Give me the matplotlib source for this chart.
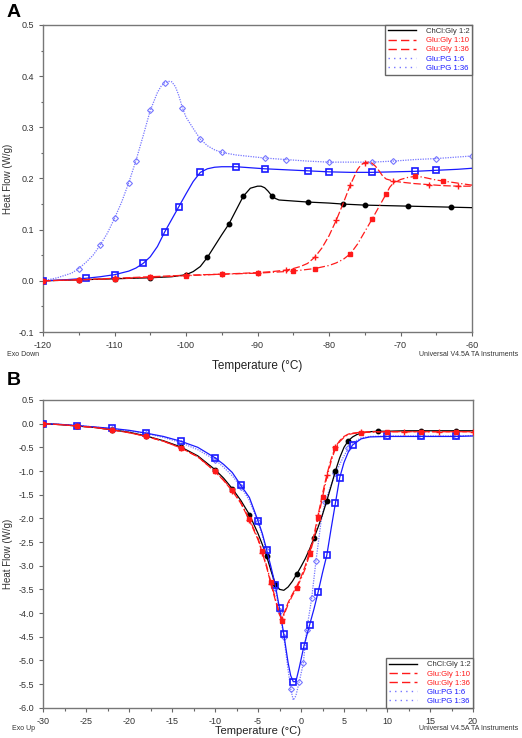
import matplotlib
matplotlib.use("Agg")
import matplotlib.pyplot as plt
from matplotlib.lines import Line2D
from matplotlib.ticker import MultipleLocator, FormatStrFormatter

plt.rcParams['font.family'] = ['Liberation Sans', 'DejaVu Sans']
plt.rcParams['axes.unicode_minus'] = False

labels = ["ChCl:Gly 1:2", "Glu:Gly 1:10", "Glu:Gly 1:36", "Glu:PG 1:6", "Glu:PG 1:36"]

# ---------------- Panel A (cooling, -120 .. -60 C) ----------------
a_chcl_t = [-120, -115, -110, -105, -102, -100, -99, -98, -97, -96, -95, -94, -93, -92, -91, -90, -89.5, -89,
            -88.5, -88, -87.5, -87, -86, -85, -83, -80, -78, -75, -72, -69, -66, -63, -60]
a_chcl_hf = [0.0, 0.002, 0.004, 0.006, 0.008, 0.012, 0.018, 0.028, 0.046, 0.068, 0.090, 0.111, 0.138, 0.165, 0.181,
             0.185, 0.185, 0.182, 0.175, 0.166, 0.161, 0.158, 0.157, 0.156, 0.154, 0.152, 0.150, 0.148, 0.147, 0.146,
             0.145, 0.144, 0.143]

a_gg10_t = [-120, -115, -110, -105, -100, -95, -90, -88, -86, -85, -84, -83, -82, -81, -80, -79, -78, -77, -76,
            -75.5, -75, -74.5, -74, -73.5, -73, -72.5, -72, -71, -70, -68, -66, -64, -62, -60]
a_gg10_hf = [0.0, 0.002, 0.005, 0.008, 0.011, 0.013, 0.016, 0.018, 0.021, 0.024, 0.028, 0.034, 0.046, 0.064, 0.088,
             0.118, 0.152, 0.188, 0.218, 0.227, 0.231, 0.232, 0.230, 0.224, 0.215, 0.205, 0.199, 0.195, 0.193, 0.190,
             0.188, 0.186, 0.185, 0.185]

a_gg36_t = [-120, -115, -110, -105, -100, -95, -90, -85, -82, -80, -79, -78, -77, -76, -75, -74, -73, -72, -71.5,
            -71, -70, -69, -68, -67, -66, -65, -64, -62, -60]
a_gg36_hf = [0.0, 0.002, 0.004, 0.007, 0.010, 0.013, 0.015, 0.019, 0.024, 0.030, 0.035, 0.042, 0.053, 0.072, 0.096,
             0.120, 0.145, 0.170, 0.183, 0.191, 0.198, 0.202, 0.204, 0.203, 0.200, 0.197, 0.195, 0.191, 0.187]

a_pg6_t = [-120, -118, -116, -115, -114, -113, -112, -111, -110, -109, -108, -107, -106, -105, -104, -103.5, -103,
           -102.5, -102, -101.5, -101, -100.5, -100, -99, -98, -97, -96, -95, -93, -91, -89, -86, -83, -80, -77,
           -74, -71, -68, -65, -62, -60]
a_pg6_hf = [0.0, 0.006, 0.015, 0.024, 0.036, 0.050, 0.070, 0.093, 0.122, 0.154, 0.192, 0.235, 0.283, 0.333, 0.368,
            0.380, 0.387, 0.390, 0.389, 0.380, 0.362, 0.338, 0.320, 0.298, 0.277, 0.264, 0.256, 0.251, 0.246, 0.243,
            0.240, 0.237, 0.234, 0.232, 0.232, 0.232, 0.234, 0.237, 0.239, 0.242, 0.244]

a_pg36_t = [-120, -117, -114, -112, -110, -108, -107, -106, -105, -104, -103, -102, -101, -100, -99, -98, -97, -96,
            -95, -93, -91, -89, -86, -83, -80, -77, -74, -71, -68, -65, -62, -60]
a_pg36_hf = [0.0, 0.002, 0.005, 0.008, 0.012, 0.019, 0.025, 0.034, 0.047, 0.067, 0.095, 0.120, 0.145, 0.170, 0.194,
             0.212, 0.219, 0.222, 0.223, 0.223, 0.221, 0.219, 0.217, 0.215, 0.213, 0.212, 0.212, 0.213, 0.214, 0.216,
             0.218, 0.220]

# ---------------- Panel B (heating, -30 .. 20 C) ----------------
b_chcl_t = [-30, -28, -26, -24, -22, -20, -18, -16, -14, -12, -10, -9, -8, -7, -6, -5, -4.5, -4, -3.5, -3, -2.5,
            -2, -1.5, -1, -0.5, 0, 0.5, 1, 1.5, 2, 2.5, 3, 3.5, 4, 4.5, 5, 5.5, 6, 6.5, 7, 8, 9, 10, 12, 14, 16,
            18, 20]
b_chcl_hf = [0, -0.02, -0.05, -0.08, -0.13, -0.18, -0.26, -0.36, -0.49, -0.68, -0.97, -1.15, -1.37, -1.62, -1.92,
             -2.32, -2.55, -2.80, -3.10, -3.38, -3.50, -3.52, -3.45, -3.33, -3.18, -3.02, -2.85, -2.65, -2.42,
             -2.18, -1.92, -1.63, -1.32, -1.00, -0.72, -0.50, -0.36, -0.28, -0.23, -0.20, -0.17, -0.16, -0.16,
             -0.15, -0.15, -0.15, -0.15, -0.15]

b_gg10_t = [-30, -28, -26, -24, -22, -20, -18, -16, -14, -12, -10, -9, -8, -7, -6, -5, -4.5, -4, -3.5, -3, -2.5,
            -2.2, -2, -1.5, -1, -0.5, 0, 0.5, 1, 1.5, 2, 2.5, 3, 3.5, 4, 4.5, 5, 5.5, 6, 7, 8, 10, 12, 14, 16, 18, 20]
b_gg10_hf = [0, -0.02, -0.05, -0.08, -0.13, -0.19, -0.27, -0.37, -0.51, -0.70, -1.01, -1.20, -1.42, -1.68, -2.04,
             -2.45, -2.73, -3.03, -3.38, -3.72, -4.04, -4.12, -4.02, -3.78, -3.60, -3.44, -3.24, -3.00, -2.70,
             -2.36, -1.92, -1.48, -1.08, -0.75, -0.49, -0.36, -0.27, -0.22, -0.20, -0.18, -0.17, -0.17, -0.17,
             -0.17, -0.17, -0.17, -0.17]

b_gg36_t = [-30, -28, -26, -24, -22, -20, -18, -16, -14, -12, -10, -9, -8, -7, -6, -5, -4.5, -4, -3.5, -3, -2.5,
            -2.25, -2, -1.5, -1, -0.5, 0, 0.5, 1, 1.5, 2, 2.5, 3, 3.5, 4, 4.5, 5, 5.5, 6, 7, 8, 10, 12, 14, 16, 18, 20]
b_gg36_hf = [0, -0.02, -0.05, -0.08, -0.13, -0.19, -0.27, -0.37, -0.51, -0.70, -1.00, -1.19, -1.40, -1.66, -2.02,
             -2.42, -2.70, -3.00, -3.35, -3.68, -4.02, -4.16, -4.05, -3.82, -3.63, -3.47, -3.28, -3.06, -2.76,
             -2.44, -2.00, -1.55, -1.14, -0.80, -0.52, -0.38, -0.29, -0.23, -0.21, -0.19, -0.18, -0.17, -0.17,
             -0.17, -0.17, -0.17, -0.17]

b_pg6_t = [-30, -28, -26, -24, -22, -20, -18, -16, -14, -12, -10, -9, -8, -7, -6, -5, -4.5, -4, -3.5, -3, -2.5,
           -2, -1.5, -1.2, -0.9, -0.6, -0.2, 0.27, 0.66, 1.24, 1.74, 2.33, 2.8, 3.37, 4, 4.85, 5.5, 6, 7, 8, 10, 12,
           14, 16, 18, 20]
b_pg6_hf = [0, -0.015, -0.04, -0.07, -0.11, -0.15, -0.21, -0.29, -0.40, -0.55, -0.76, -0.92, -1.10, -1.33, -1.62,
            -2.08, -2.36, -2.70, -3.07, -3.47, -3.95, -4.50, -5.20, -5.60, -5.84, -5.75, -5.45, -5.06, -4.36, -3.69,
            -2.90, -2.07, -1.65, -1.36, -1.05, -0.73, -0.52, -0.40, -0.30, -0.27, -0.26, -0.26, -0.26, -0.26,
            -0.26, -0.25]

b_pg36_t = [-30, -28, -26, -24, -22, -20, -18, -16, -14, -12, -10, -9, -8, -7, -6, -5, -4.5, -4, -3.5, -3, -2.5,
            -2, -1.5, -1.2, -0.9, -0.6, -0.2, 0.35, 1, 1.5, 2, 2.5, 3, 3.5, 4, 4.5, 5, 5.5, 6, 7, 8, 10, 12, 14, 16,
            18, 20]
b_pg36_hf = [0, -0.015, -0.04, -0.07, -0.10, -0.14, -0.20, -0.27, -0.37, -0.50, -0.72, -0.86, -1.03, -1.30, -1.56,
             -2.05, -2.32, -2.66, -3.02, -3.40, -3.90, -4.45, -5.05, -5.32, -5.45, -5.45, -5.15, -4.69, -4.25,
             -3.92, -3.55, -3.15, -2.78, -2.22, -1.68, -1.14, -0.82, -0.60, -0.45, -0.32, -0.28, -0.27, -0.27,
             -0.27, -0.27, -0.27, -0.26]

RED = '#ff1a1a'
BLUE = '#1a1aff'
LBLUE = '#7676ff'

styles = [
    dict(color='black', lw=0.9, ls='-', marker='o', ms=3.2, mfc='black', mec='black'),
    dict(color=RED, lw=0.9, ls=(0, (6, 2)), marker='+', ms=4, mew=1.0),
    dict(color=RED, lw=0.9, ls=(0, (6, 2, 1, 2)), marker='s', ms=3.2, mfc=RED, mec=RED),
    dict(color=LBLUE, lw=0.9, ls=(0, (1, 1)), marker='D', ms=3.0, mfc='none', mec=LBLUE, mew=0.8),
    dict(color=BLUE, lw=0.9, ls='-', marker='s', ms=4.5, mfc='none', mec=BLUE, mew=1.2),
]
legend_ls = ['-', (0, (6, 3)), (0, (6, 3)), (0, (1, 3)), (0, (1, 3))]
legend_colors = ['black', RED, RED, LBLUE, LBLUE]
text_colors = ['#333333', RED, RED, BLUE, BLUE]

fig = plt.figure(figsize=(5.22, 7.38), dpi=100)
axA = fig.add_axes([43/522, 1-332/738, (472-43)/522, (332-25)/738])
axB = fig.add_axes([43/522, 1-707.7/738, (473-43)/522, (707.7-400)/738])

dataA = [(a_chcl_t, a_chcl_hf), (a_gg10_t, a_gg10_hf), (a_gg36_t, a_gg36_hf),
         (a_pg6_t, a_pg6_hf), (a_pg36_t, a_pg36_hf)]
dataB = [(b_chcl_t, b_chcl_hf), (b_gg10_t, b_gg10_hf), (b_gg36_t, b_gg36_hf),
         (b_pg6_t, b_pg6_hf), (b_pg36_t, b_pg36_hf)]
zorders = [3, 4, 4, 2, 3]

for ax, data in [(axA, dataA), (axB, dataB)]:
    for (t, hf), st, z in zip(data, styles, zorders):
        ax.plot(t, hf, markevery=0.066, zorder=z, **st)

def style_axes(ax, pad, fs):
    for sp in ax.spines.values():
        sp.set_color('#777777')
        sp.set_linewidth(1.0)
    ax.tick_params(which='both', direction='out', colors='#666666', labelcolor='#333333', labelsize=6.5,
                   width=0.8)
    ax.tick_params(which='major', length=3)
    ax.tick_params(which='minor', length=1.8)
    ax.set_ylabel('Heat Flow (W/g)', fontsize=7, color='#333333', labelpad=4)
    ax.set_xlabel('Temperature (°C)', fontsize=fs, color='#222222', labelpad=pad)

axA.set_xlim(-120, -60)
axA.set_ylim(-0.1, 0.5)
axA.xaxis.set_major_locator(MultipleLocator(10))
axA.xaxis.set_minor_locator(MultipleLocator(5))
axA.yaxis.set_major_locator(MultipleLocator(0.1))
axA.yaxis.set_minor_locator(MultipleLocator(0.05))
axA.yaxis.set_major_formatter(FormatStrFormatter('%.1f'))
style_axes(axA, 7, 8.5)

axB.set_xlim(-30, 20)
axB.set_ylim(-6.0, 0.5)
axB.xaxis.set_major_locator(MultipleLocator(5))
axB.xaxis.set_minor_locator(MultipleLocator(2.5))
axB.yaxis.set_major_locator(MultipleLocator(0.5))
axB.yaxis.set_major_formatter(FormatStrFormatter('%.1f'))
style_axes(axB, 0, 8)

handles = [Line2D([], [], color=c, ls=l, lw=1.0) for c, l in zip(legend_colors, legend_ls)]
for ax, loc in [(axA, 'upper right'), (axB, 'lower right')]:
    leg = ax.legend(handles, labels, loc=loc, fontsize=5.6, frameon=True, fancybox=False, borderaxespad=0,
                    handlelength=3.6, handletextpad=1.2, labelspacing=0.22, borderpad=0.35,
                    edgecolor='#666666', framealpha=1, markerfirst=True)
    leg.get_frame().set_linewidth(1.0)
    for txt, c in zip(leg.get_texts(), text_colors):
        txt.set_color(c)

fig.text(0.012, 1-4/738, 'A', fontsize=14, fontweight='bold', va='top', ha='left')
fig.text(0.012, 1-372/738, 'B', fontsize=14, fontweight='bold', va='top', ha='left')

fig.text(7/522, 1-355/738, 'Exo Down', fontsize=5, va='center', ha='left', color='#333333')
fig.text(518/522, 1-355/738, 'Universal V4.5A TA Instruments', fontsize=5, va='center', ha='right',
         color='#333333')
fig.text(12/522, 1-729/738, 'Exo Up', fontsize=5, va='center', ha='left', color='#333333')
fig.text(518/522, 1-728/738, 'Universal V4.5A TA Instruments', fontsize=5, va='center', ha='right',
         color='#333333')

fig.savefig('out.png', dpi=100)
